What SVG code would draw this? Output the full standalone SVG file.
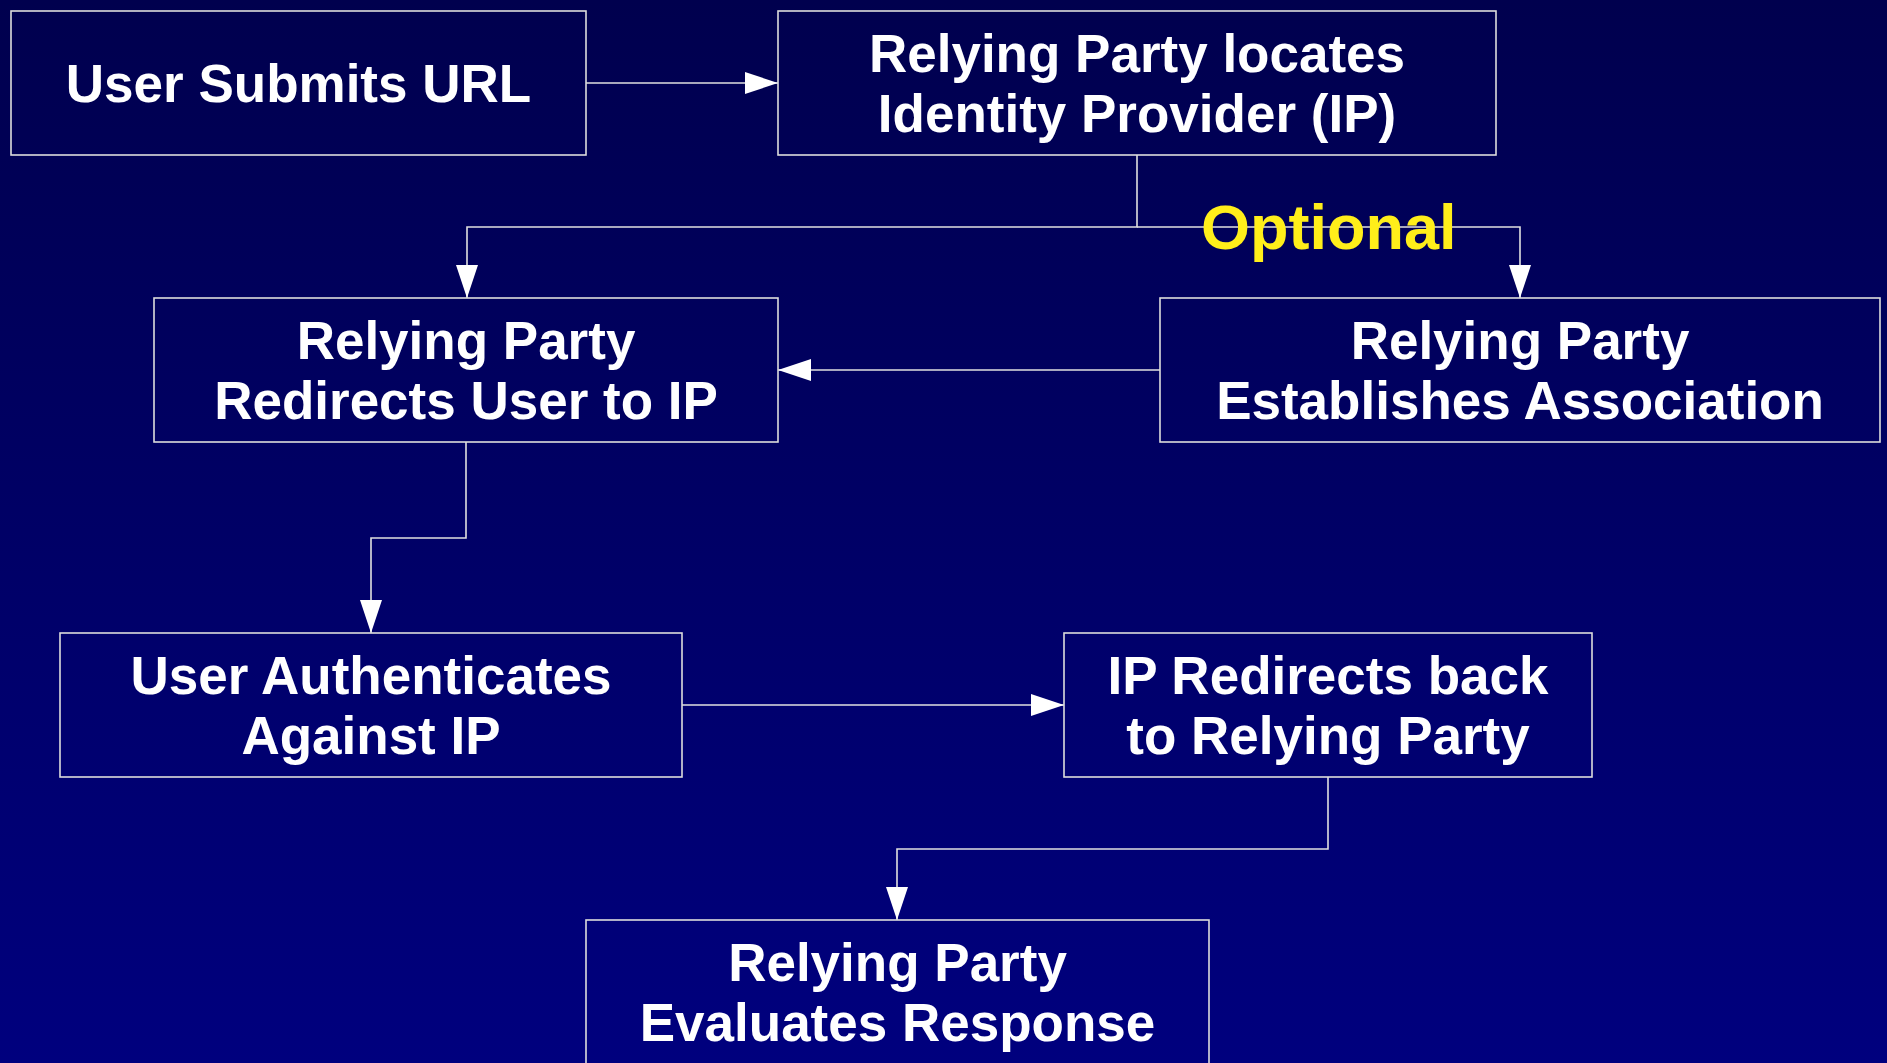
<svg xmlns="http://www.w3.org/2000/svg" width="1887" height="1063" viewBox="0 0 1887 1063">
<defs>
<linearGradient id="bg" x1="0" y1="0" x2="0" y2="1">
<stop offset="0" stop-color="#00004e"/>
<stop offset="1" stop-color="#00007e"/>
</linearGradient>
<marker id="arr" markerUnits="userSpaceOnUse" markerWidth="34" markerHeight="24" refX="33" refY="11" orient="auto">
<path d="M0,0 L33,11 L0,22 Z" fill="#ffffff"/>
</marker>
<style>
.box{fill:none;stroke:#dcdcdc;stroke-width:1.6}
.t{font-family:"Liberation Sans",Arial,sans-serif;font-weight:bold;font-size:53px;fill:#ffffff;text-anchor:middle}
.c{fill:none;stroke:#e0e0e0;stroke-width:1.6}
.opt{font-family:"Liberation Sans",Arial,sans-serif;font-weight:bold;font-size:63px;fill:#ffee1a}
</style>
</defs>
<rect x="0" y="0" width="1887" height="1063" fill="url(#bg)"/>
<g id="connectors">
<path class="c" d="M586,83 H778" marker-end="url(#arr)"/>
<path class="c" d="M1137,155 V227 H467 V298" marker-end="url(#arr)"/>
<path class="c" d="M1137,227 H1520 V298" marker-end="url(#arr)"/>
<path class="c" d="M1160,370 H778" marker-end="url(#arr)"/>
<path class="c" d="M466,442 V538 H371 V633" marker-end="url(#arr)"/>
<path class="c" d="M682,705 H1064" marker-end="url(#arr)"/>
<path class="c" d="M1328,777 V849 H897 V920" marker-end="url(#arr)"/>
</g>
<text class="opt" x="1201" y="249">Optional</text>
<g id="n1">
<rect class="box" x="11" y="11" width="575" height="144"/>
<text class="t" x="298.5" y="102">User Submits URL</text>
</g>
<g id="n2">
<rect class="box" x="778" y="11" width="718" height="144"/>
<text class="t" x="1137" y="72">Relying Party locates</text>
<text class="t" x="1137" y="132">Identity Provider (IP)</text>
</g>
<g id="n3">
<rect class="box" x="154" y="298" width="624" height="144"/>
<text class="t" x="466" y="359">Relying Party</text>
<text class="t" x="466" y="419">Redirects User to IP</text>
</g>
<g id="n4">
<rect class="box" x="1160" y="298" width="720" height="144"/>
<text class="t" x="1520" y="359">Relying Party</text>
<text class="t" x="1520" y="419">Establishes Association</text>
</g>
<g id="n5">
<rect class="box" x="60" y="633" width="622" height="144"/>
<text class="t" x="371" y="694">User Authenticates</text>
<text class="t" x="371" y="754">Against IP</text>
</g>
<g id="n6">
<rect class="box" x="1064" y="633" width="528" height="144"/>
<text class="t" x="1328" y="694">IP Redirects back</text>
<text class="t" x="1328" y="754">to Relying Party</text>
</g>
<g id="n7">
<rect class="box" x="586" y="920" width="623" height="144"/>
<text class="t" x="897.5" y="981">Relying Party</text>
<text class="t" x="897.5" y="1041">Evaluates Response</text>
</g>
</svg>
